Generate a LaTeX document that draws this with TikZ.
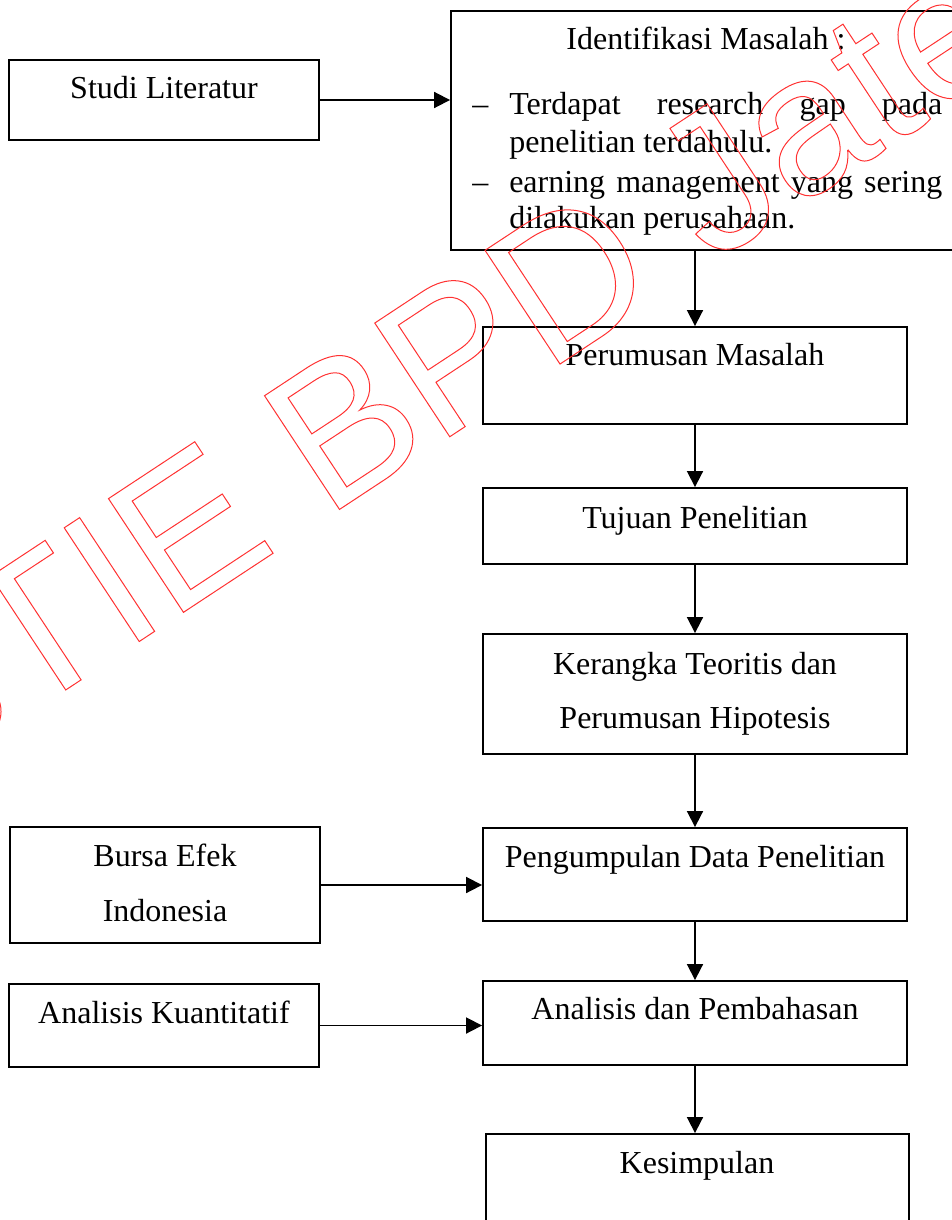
\documentclass[tikz,border=0pt]{standalone}
\usepackage{fontspec}
\setmainfont{Liberation Serif}
\newfontfamily\wmfont{Liberation Sans}
\usetikzlibrary{arrows.meta,fit}
\definecolor{wmred}{RGB}{255,50,50}
\begin{document}
\begin{tikzpicture}[x=0.75pt,y=-0.75pt,
  box/.style={draw, line width=1.4pt, inner sep=0pt},
  txt/.style={anchor=base, inner sep=0pt, font=\fontsize{24}{28}\selectfont},
  txtl/.style={txt, anchor=base west},
  arr/.style={line width=1.35pt, -{Triangle[width=12pt,length=12pt]}}]
\useasboundingbox (0,0) rectangle (952,1220);
\clip (0,0) rectangle (952,1220);
% boxes
\node[box, fit={(9,60)(319,140)}] (studi) {};
\node[box, fit={(451,11)(961,250)}] (ident) {};
\node[box, fit={(483,327)(907,424)}] (perm) {};
\node[box, fit={(483,488)(907,564)}] (tuj) {};
\node[box, fit={(483,634)(907,754)}] (ker) {};
\node[box, fit={(483,828)(907,921)}] (peng) {};
\node[box, fit={(10,827)(320,943)}] (bursa) {};
\node[box, fit={(483,981)(907,1065)}] (ap) {};
\node[box, fit={(9,984)(319,1067)}] (ak) {};
\node[box, fit={(486,1134)(909,1250)}] (kes) {};
% texts
\node[txt] (studiT) at (164,99) {Studi Literatur};
\node[txt] (identT) at (706,50) {Identifikasi Masalah :};
\node[txtl] (d1) at (472,115) {--};
\node[txtl] (l1) at (509,115) {\makebox[324.75pt][s]{Terdapat research gap pada}};
\node[txtl] (l2) at (509,152) {penelitian terdahulu.};
\node[txtl] (d2) at (472,192) {--};
\node[txtl] (l3) at (509,192) {\makebox[324.75pt][s]{earning management yang sering}};
\node[txtl] (l4) at (509,228) {dilakukan perusahaan.};
\node[txt] (permT) at (695,365) {Perumusan Masalah};
\node[txt] (tujT) at (695,528) {Tujuan Penelitian};
\node[txt] (kerT1) at (695,674) {Kerangka Teoritis dan};
\node[txt] (kerT2) at (695,728) {Perumusan Hipotesis};
\node[txt] (pengT) at (695,867) {Pengumpulan Data Penelitian};
\node[txt] (bursaT1) at (165,866) {Bursa Efek};
\node[txt] (bursaT2) at (165,921) {Indonesia};
\node[txt] (apT) at (695,1019) {Analisis dan Pembahasan};
\node[txt] (akT) at (164,1023) {Analisis Kuantitatif};
\node[txt] (kesT) at (697,1173) {Kesimpulan};
% arrows
\draw[arr] (studi.east) -- (studi.east -| ident.west);
\draw[arr] (ident.south -| perm.north) -- (perm.north);
\draw[arr] (perm.south) -- (tuj.north);
\draw[arr] (tuj.south) -- (ker.north);
\draw[arr] (ker.south) -- (peng.north);
\draw[arr] (peng.south) -- (ap.north);
\draw[arr] (ap.south) -- (ap.south |- kes.north);
\draw[arr] (bursa.east) -- (bursa.east -| peng.west);
\draw[arr] (ak.east) -- (ak.east -| ap.west);
% watermark
\node[anchor=base west, inner sep=0pt, rotate=33.4, text=wmred,
  font=\wmfont\fontsize{148.5}{150}\selectfont] (wm) at (-87.5,791)
  {\special{pdf:literal direct 1 Tr 0.75 w}STIE BPD Jateng\special{pdf:literal direct 0 Tr}};
\end{tikzpicture}
\end{document}
